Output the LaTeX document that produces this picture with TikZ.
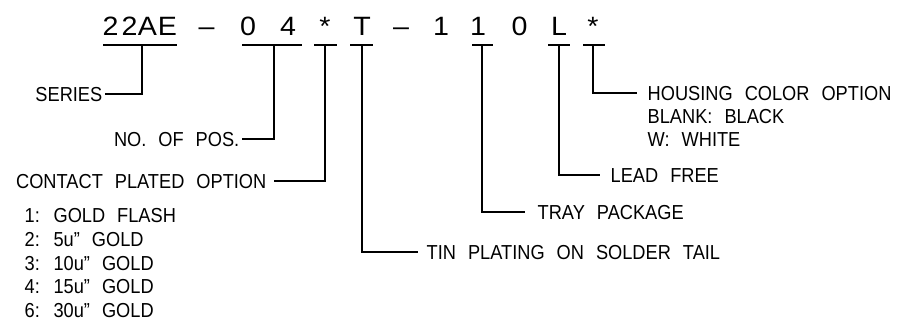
\documentclass[tikz,border=0pt]{standalone}
\usepackage{fontspec}
\setmainfont{Liberation Sans}
\newfontfamily\cadfont[FakeStretch=0.9]{Liberation Sans}
\newfontfamily\cadcode[FakeStretch=1.08]{Liberation Sans}
\newcommand\lblfont{\cadfont\fontsize{20.25}{24}\selectfont\spaceskip 12pt\relax}
\newcommand\codefont{\cadcode\fontsize{26.5}{30}\selectfont}
\begin{document}
\begin{tikzpicture}[x=1pt,y=-1pt,
  line width=1.4pt, line join=miter,
  code/.style={inner sep=0pt, anchor=base, font=\codefont},
  lbl/.style={inner ysep=0pt, text height=14.5pt, text depth=0pt, font=\lblfont},
  bar/.style={line width=1.4pt},
  conn/.style={line width=1.4pt}]
\useasboundingbox (0,0) rectangle (922,334);

% ---- part number characters ----
\node[code] (c1) at (110.5,36) {2};
\node[code] (c2) at (129.5,36) {2};
\node[code] (c3) at (147.5,36) {A};
\node[code] (c4) at (167.5,36) {E};
\node[code] (d1) at (206.5,36) {–};
\node[code] (c5) at (248,36) {0};
\node[code] (c6) at (288,36) {4};
\node[code] (c7) at (325,36) {*};
\node[code] (c8) at (362,36) {T};
\node[code] (d2) at (401,36) {–};
\node[code] (c9) at (441,36) {1};
\node[code] (c10) at (478,36) {1};
\node[code] (c11) at (519.5,36) {0};
\node[code] (c12) at (559,36) {L};
\node[code] (c13) at (593,36) {*};

% ---- underline bars and stem tops ----
\coordinate (b1l) at (103,45); \coordinate (b1r) at (177,45); \coordinate (s1) at (142,45);
\coordinate (b2l) at (242,45); \coordinate (b2r) at (302,45); \coordinate (s2) at (274,45);
\coordinate (b3l) at (314,45); \coordinate (b3r) at (337,45); \coordinate (s3) at (325,45);
\coordinate (b4l) at (350,45); \coordinate (b4r) at (373,45); \coordinate (s4) at (362,45);
\coordinate (b5l) at (472,45); \coordinate (b5r) at (493,45); \coordinate (s5) at (482,45);
\coordinate (b6l) at (548,45); \coordinate (b6r) at (570,45); \coordinate (s6) at (559,45);
\coordinate (b7l) at (583,45); \coordinate (b7r) at (605,45); \coordinate (s7) at (593,45);
\foreach \i in {1,...,7} { \draw[bar] (b\i l) -- (b\i r); }

% ---- left labels ----
\node[lbl, anchor=east, inner xsep=2pt] (series) at (105,94) {SERIES};
\node[lbl, anchor=east, inner xsep=2pt] (npos) at (242,139) {NO. OF POS.};
\node[lbl, anchor=east, inner xsep=7pt] (contact) at (274,181) {CONTACT PLATED OPTION};
\node[lbl, anchor=west, inner xsep=0pt] (opt1) at (24,215) {1: GOLD FLASH};
\node[lbl, anchor=west, inner xsep=0pt] (opt2) at (24,238.9) {2: 5u” GOLD};
\node[lbl, anchor=west, inner xsep=0pt] (opt3) at (24,262.8) {3: 10u” GOLD};
\node[lbl, anchor=west, inner xsep=0pt] (opt4) at (24,286.7) {4: 15u” GOLD};
\node[lbl, anchor=west, inner xsep=0pt] (opt6) at (24,310.6) {6: 30u” GOLD};

% ---- right labels ----
\node[lbl, anchor=west, inner xsep=10pt] (housing) at (637,93) {HOUSING COLOR OPTION};
\node[lbl, anchor=west, inner xsep=0pt] (blank) at (647,116) {BLANK: BLACK};
\node[lbl, anchor=west, inner xsep=0pt] (white) at (647,139.5) {W: WHITE};
\node[lbl, anchor=west, inner xsep=10pt] (lead) at (600,175) {LEAD FREE};
\node[lbl, anchor=west, inner xsep=12pt] (tray) at (525,212) {TRAY PACKAGE};
\node[lbl, anchor=west, inner xsep=8pt] (tin) at (418,252) {TIN PLATING ON SOLDER TAIL};

% ---- connectors ----
\draw[conn] (s1) |- (series.east);
\draw[conn] (s2) |- (npos.east);
\draw[conn] (s3) |- (contact.east);
\draw[conn] (s4) |- (tin.west);
\draw[conn] (s5) |- (tray.west);
\draw[conn] (s6) |- (lead.west);
\draw[conn] (s7) |- (housing.west);
\end{tikzpicture}
\end{document}
